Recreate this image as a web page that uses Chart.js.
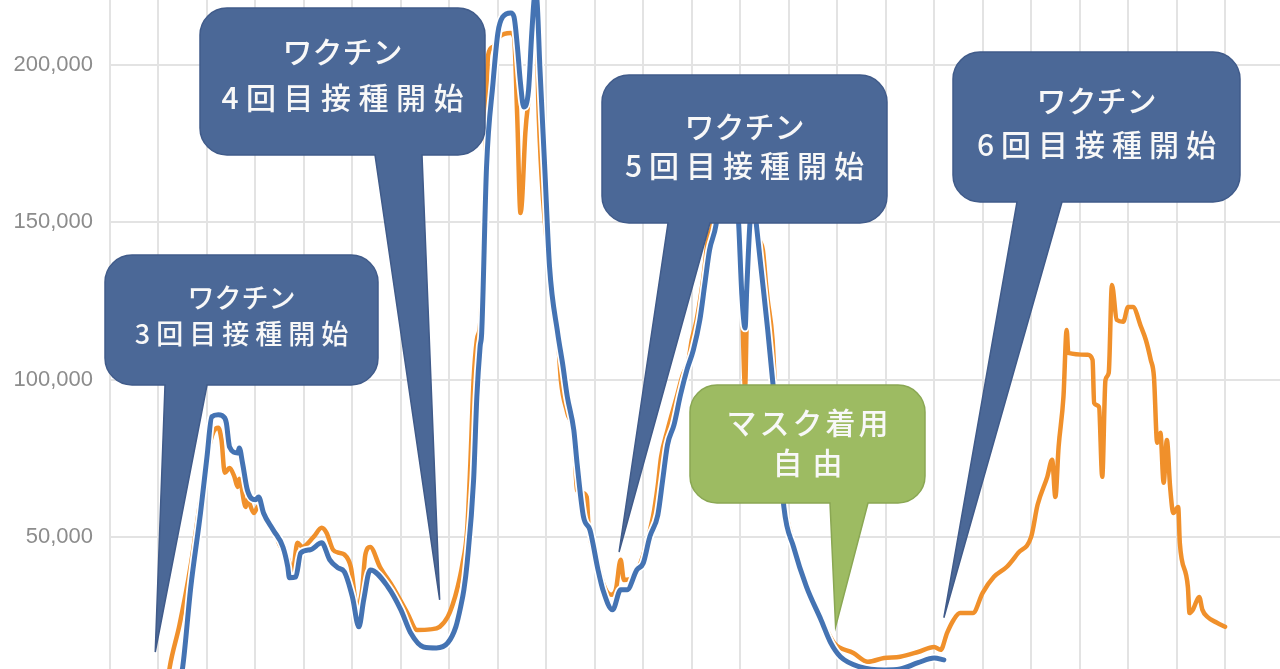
<!DOCTYPE html>
<html lang="ja">
<head>
<meta charset="UTF-8">
<title>感染者数の推移</title>
<script src="https://cdn.jsdelivr.net/npm/chart.js@4/dist/chart.umd.min.js"></script>
<style>
  html, body { margin:0; padding:0; background:#fff; overflow:hidden; }
  canvas { display:block; }
</style>
</head>
<body>
<canvas id="c" width="1280" height="669"></canvas>
<script>
// 日数（左端からの経過日）と値
const orangeDays = [35,37,43,50,56,61,64,67,69,71,74,77,79,80,84,85,89,92,96,101,105,110,113,116,119,126,131,134,138,142,145,149,153,156,158,161,167,175,184,190,198,204,209,212,215,218,221,223,225,227,229,231,232,233,234,237,241,248,250,252,254,255,257,260,262,264,265,266,268,272,277,279,283,287,289,292,295,296,302,305,310,313,316,318,324,330,336,339,341,345,351,354,358,360,363,367,370,373,376,381,386,389,391,393,394,396,398,400,402,404,406,407,410,413,418,424,432,440,448,460,469,479,489,500,510,514,518,522,526,534,540,547,555,562,570,574,580,583,585,587,590,592,593,605,608,609,612,614,616,618,620,623,627,630,633,638,641,644,646,648,650,652,654,656,658,661,662,667,668,670,674,676,679,685,690];
const orangeVals = [1400,8700,22000,41100,61800,77700,83400,84700,80800,70400,71900,69100,65900,68500,59500,61800,57600,59900,56000,52900,47500,43300,38900,48100,46800,50000,52900,51300,45900,44900,44400,40500,27400,33200,44300,46800,40500,34100,25800,20400,20600,21400,24600,28400,33800,41100,52200,73500,99900,112600,117400,138100,157100,188900,203200,205800,209000,210200,209000,183500,153000,157100,178400,194300,212100,214400,188900,175300,157100,135800,114900,99900,89400,81800,64900,64000,62700,54500,41700,35400,31600,33200,42700,36300,37300,44300,56400,66500,75400,84000,95100,100900,106300,112600,119000,131700,144400,150100,166700,173000,160300,149200,125300,97400,119000,149800,161900,149200,144400,141200,130100,125300,112600,80800,58600,45900,33200,24300,16300,13100,10300,11500,11900,13400,15000,14100,19500,23600,25800,25800,32200,37300,40500,44900,50000,60200,69100,74500,62700,78600,94500,115800,108500,107900,106300,92600,91300,69100,99900,102100,130100,119000,118400,123100,123100,116800,112600,106300,100900,79900,83100,67200,80800,65900,57600,59500,48100,34100,25800,26800,30900,26800,24600,22700,21400];

const blueDays = [42,45,50,56,60,63,67,71,72,74,79,80,82,85,90,92,95,101,107,110,111,115,118,124,131,136,141,145,150,154,157,161,172,180,186,194,202,209,214,217,219,221,225,227,229,230,233,237,240,243,248,250,252,254,256,259,261,263,264,266,269,272,277,280,283,287,289,293,297,302,305,311,316,320,326,330,334,339,342,345,349,353,357,361,365,368,371,375,379,384,388,389,391,393,394,396,398,400,403,407,410,414,417,423,431,440,446,452,464,479,489,500,510,516];
const blueVals = [1400,8700,34100,57600,75400,88200,88800,87800,86200,78600,76700,78300,73500,64900,61800,62700,57600,52200,46800,40500,37000,37300,44900,45900,48100,42700,40200,38900,30900,21400,30000,39500,34100,26800,19500,15000,14700,16300,21400,27800,33200,41700,68100,94500,110400,114900,167600,194300,210200,215300,216600,215300,206400,194300,186700,192100,210200,222300,221700,199400,167600,135800,114900,105300,94500,84000,73500,56400,52200,39500,33200,26800,33200,33200,39500,41700,50000,57000,68100,79300,85600,95100,103100,109500,119000,130100,141200,149200,166700,173000,157100,149800,126900,116400,128500,149800,160300,149200,134900,115800,99900,80800,59500,46800,34100,23600,16300,11900,8700,7700,8000,10000,11500,10900];

const yTicks = [50000, 100000, 150000, 200000];
const dayStep = 30;

// 吹き出し（先端は日・値で指定）
const callouts = [
  { lines:['ワクチン','3回目接種開始'], tip:[28,13400], box:[105,255,273,130], base:[165,207], size:27, gap:[0,6], lineY:[298,334], fill:'#4b6897', edge:'#405b8a' },
  { lines:['ワクチン','4回目接種開始'], tip:[204,30000], box:[200,8,285,147], base:[375,422], size:30, gap:[0,7.5], lineY:[52,98], fill:'#4b6897', edge:'#405b8a' },
  { lines:['ワクチン','5回目接種開始'], tip:[315,45200], box:[602,75,285,148], base:[668,710], size:30, gap:[0,7], lineY:[127,166], fill:'#4b6897', edge:'#405b8a' },
  { lines:['マスク着用','自由'], tip:[449,21400], box:[690,385,235,118], base:[830,868], size:30, gap:[3,10], lineY:[423,463], fill:'#9dbb62', edge:'#8aa753' },
  { lines:['ワクチン','6回目接種開始'], tip:[516,24300], box:[953,52,287,150], base:[1017,1062], size:30, gap:[0,7], lineY:[101,145], fill:'#4b6897', edge:'#405b8a' }
];

const toPts = (xs, ys) => xs.map((x, i) => ({ x, y: ys[i] }));

const calloutPlugin = {
  id: 'callouts',
  afterDatasetsDraw(chart) {
    const ctx = chart.ctx;
    const sx = chart.scales.x, sy = chart.scales.y;
    callouts.forEach(c => {
      const [x, y, w, h] = c.box;
      const r = 27;
      const tx = sx.getPixelForValue(c.tip[0]);
      const ty = sy.getPixelForValue(c.tip[1]);
      ctx.save();
      ctx.beginPath();
      ctx.moveTo(x + r, y);
      ctx.arcTo(x + w, y, x + w, y + h, r);
      ctx.arcTo(x + w, y + h, x, y + h, r);
      ctx.lineTo(c.base[1], y + h);
      ctx.lineTo(tx, ty);
      ctx.lineTo(c.base[0], y + h);
      ctx.arcTo(x, y + h, x, y, r);
      ctx.arcTo(x, y, x + w, y, r);
      ctx.closePath();
      ctx.fillStyle = c.fill;
      ctx.fill();
      ctx.lineWidth = 1.5;
      ctx.strokeStyle = c.edge;
      ctx.stroke();

      ctx.fillStyle = '#f8f8f8';
      ctx.textBaseline = 'middle';
      ctx.textAlign = 'left';
      ctx.font = `500 ${c.size}px "Noto Sans CJK JP", "Noto Sans", sans-serif`;
      c.lines.forEach((line, li) => {
        const chars = Array.from(line);
        const widths = chars.map(ch => ctx.measureText(ch).width);
        const total = widths.reduce((a, b) => a + b, 0) + c.gap[li] * (chars.length - 1);
        let cx = x + w / 2 - total / 2;
        chars.forEach((ch, i) => {
          ctx.fillText(ch, cx, c.lineY[li]);
          cx += widths[i] + c.gap[li];
        });
      });
      ctx.restore();
    });
  }
};

const gridColor = '#e3e3e3';

new Chart(document.getElementById('c').getContext('2d'), {
  type: 'line',
  data: {
    datasets: [
      { label: 'blue', data: toPts(blueDays, blueVals), borderColor: '#4473b3', borderWidth: 5, order: 0 },
      { label: 'halo', data: toPts(blueDays, blueVals), borderColor: '#ffffff', borderWidth: 8.5, order: 1 },
      { label: 'orange', data: toPts(orangeDays, orangeVals), borderColor: '#f0902b', borderWidth: 4.5, order: 2 }
    ]
  },
  options: {
    responsive: false,
    animation: false,
    devicePixelRatio: 1,
    layout: { padding: 0 },
    plugins: { legend: { display: false }, tooltip: { enabled: false } },
    elements: {
      point: { radius: 0 },
      line: { cubicInterpolationMode: 'monotone', borderJoinStyle: 'round', borderCapStyle: 'round' }
    },
    scales: {
      x: {
        type: 'linear', min: 0, max: 724,
        ticks: { display: false, stepSize: dayStep },
        grid: { color: gridColor, lineWidth: 2, drawTicks: false },
        border: { display: false },
        afterBuildTicks: s => { s.ticks = s.ticks.filter(t => t.value % dayStep === 0); },
        afterFit: s => { s.height = 0; s.paddingLeft = 0; s.paddingRight = 0; s.paddingTop = 0; s.paddingBottom = 0; }
      },
      y: {
        min: 8000, max: 220700,
        ticks: {
          stepSize: 50000, padding: 17, color: '#8c8c8c',
          font: { size: 22, family: '"Liberation Sans", Arial, sans-serif' }
        },
        grid: { color: gridColor, lineWidth: 2, drawTicks: false },
        border: { display: false },
        afterBuildTicks: s => { s.ticks = yTicks.map(v => ({ value: v })); },
        afterFit: s => { s.width = 110; s.paddingTop = 0; s.paddingBottom = 0; s.paddingLeft = 0; s.paddingRight = 0; }
      }
    }
  },
  plugins: [calloutPlugin]
});
</script>
</body>
</html>
